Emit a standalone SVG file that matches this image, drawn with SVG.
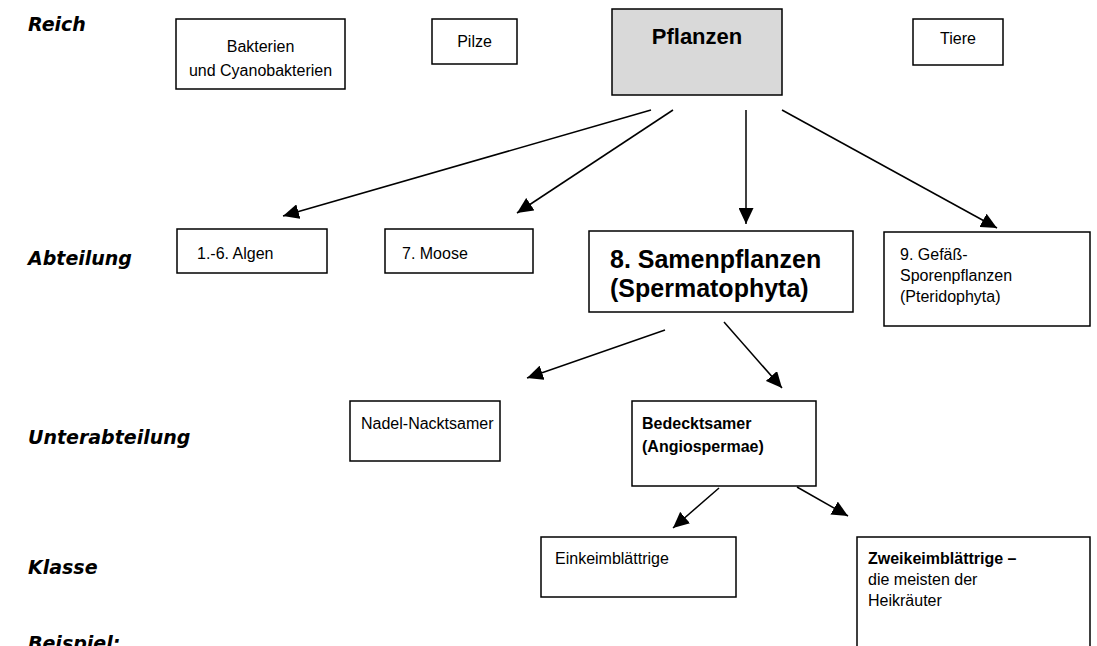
<svg xmlns="http://www.w3.org/2000/svg" width="1097" height="646" viewBox="0 0 1097 646">
<style>
.box{fill:#fff;stroke:#000;stroke-width:1.5}
.grey{fill:#d9d9d9}
.t{font-family:"Liberation Sans",Arial,sans-serif;font-size:16px;fill:#000}
.b{font-weight:bold}
.big{font-size:25px;font-weight:bold}
.p{font-size:22px;font-weight:bold}
.lab{font-family:"Comic Sans MS","DejaVu Sans",sans-serif;font-style:italic;font-weight:bold;font-size:19px;fill:#000}
.c{stroke:#000;stroke-width:1.5;fill:none;marker-end:url(#ah)}
</style>
<defs>
<marker id="ah" markerUnits="userSpaceOnUse" markerWidth="17" markerHeight="15" refX="16" refY="7.5" orient="auto">
<path d="M0,0 L16,7.5 L0,15 z" fill="#000"/>
</marker>
</defs>
<g id="labels">
<text class="lab" x="28" y="31">Reich</text>
<text class="lab" x="28" y="265">Abteilung</text>
<text class="lab" x="28" y="444">Unterabteilung</text>
<text class="lab" x="28" y="574">Klasse</text>
<text class="lab" x="28" y="650">Beispiel:</text>
</g>
<g id="bakterien">
<rect class="box" x="176" y="19" width="169" height="70"/>
<text class="t" x="260.5" y="52" text-anchor="middle">Bakterien</text>
<text class="t" x="260.5" y="76" text-anchor="middle">und Cyanobakterien</text>
</g>
<g id="pilze">
<rect class="box" x="432" y="19" width="85" height="45"/>
<text class="t" x="474.5" y="47" text-anchor="middle">Pilze</text>
</g>
<g id="pflanzen">
<rect class="box grey" x="612" y="9" width="170" height="86"/>
<text class="t p" x="697" y="44" text-anchor="middle">Pflanzen</text>
</g>
<g id="tiere">
<rect class="box" x="913" y="19" width="90" height="46"/>
<text class="t" x="958" y="44" text-anchor="middle">Tiere</text>
</g>
<g id="algen">
<rect class="box" x="177" y="229" width="150" height="44"/>
<text class="t" x="197" y="259">1.-6. Algen</text>
</g>
<g id="moose">
<rect class="box" x="385" y="229" width="148" height="44"/>
<text class="t" x="402" y="259">7. Moose</text>
</g>
<g id="samenpflanzen">
<rect class="box" x="589" y="231" width="264" height="81"/>
<text class="t big" x="610" y="268">8. Samenpflanzen</text>
<text class="t big" x="610" y="297">(Spermatophyta)</text>
</g>
<g id="gefaess">
<rect class="box" x="884" y="232" width="206" height="94"/>
<text class="t" x="900" y="260">9. Gefäß-</text>
<text class="t" x="900" y="281">Sporenpflanzen</text>
<text class="t" x="900" y="302">(Pteridophyta)</text>
</g>
<g id="nacktsamer">
<rect class="box" x="350" y="401" width="150" height="60"/>
<text class="t" x="361" y="429">Nadel-Nacktsamer</text>
</g>
<g id="bedecktsamer">
<rect class="box" x="632" y="401" width="184" height="85"/>
<text class="t b" x="642" y="429">Bedecktsamer</text>
<text class="t b" x="642" y="452">(Angiospermae)</text>
</g>
<g id="einkeim">
<rect class="box" x="541" y="537" width="195" height="60"/>
<text class="t" x="555" y="564">Einkeimblättrige</text>
</g>
<g id="zweikeim">
<rect class="box" x="857" y="537" width="233" height="120"/>
<text class="t b" x="868" y="564">Zweikeimblättrige –</text>
<text class="t" x="868" y="585">die meisten der</text>
<text class="t" x="868" y="606">Heikräuter</text>
</g>
<g id="connectors">
<line class="c" x1="651" y1="110" x2="283" y2="216"/>
<line class="c" x1="673" y1="110" x2="517" y2="213"/>
<line class="c" x1="746" y1="110" x2="746" y2="224"/>
<line class="c" x1="782" y1="110" x2="997" y2="228"/>
<line class="c" x1="665" y1="330" x2="527" y2="378"/>
<line class="c" x1="724" y1="322" x2="782" y2="388"/>
<line class="c" x1="719" y1="488" x2="673" y2="528"/>
<line class="c" x1="797" y1="487" x2="848" y2="516"/>
</g>
</svg>
